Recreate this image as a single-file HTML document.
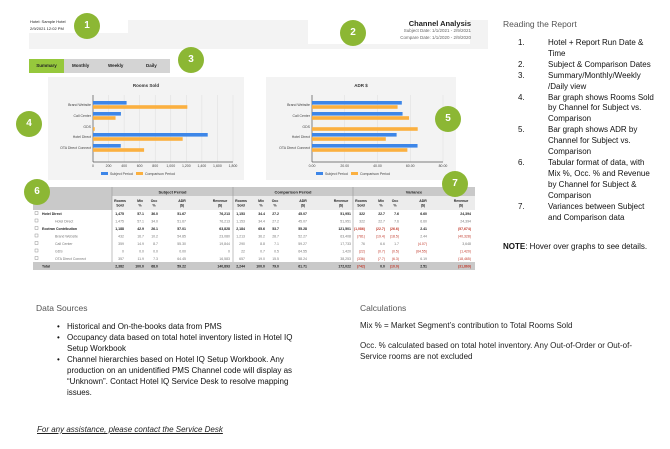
<!DOCTYPE html>
<html><head><meta charset="utf-8">
<style>
body{margin:0;width:670px;height:449px;background:#fff;position:relative;overflow:hidden;font-family:"Liberation Sans",sans-serif;color:#222}
.a{position:absolute;white-space:nowrap}
.circ{position:absolute;width:26px;height:26px;border-radius:50%;background:#8cb734;color:#fff;font-size:10px;line-height:26px;text-align:center;font-weight:bold}
.rl{position:absolute;left:518px;top:38px;width:150px;font-size:8px;line-height:10.9px;color:#111}
.rl div{position:relative;padding-left:30px;width:108px}
.rl div b{position:absolute;left:0;font-weight:normal}
.ds{position:absolute;left:57px;top:321px;width:240px;font-size:8px;line-height:11px;color:#111}
.ds div{position:relative;padding-left:10px}
.ds div b{position:absolute;left:0;font-weight:normal}
</style></head><body>
<div class="a" style="left:29px;top:20px;width:459px;height:29px;background:#f3f3f3"></div>
<div class="a" style="left:29px;top:20px;width:99px;height:13px;background:#fff"></div>
<div class="a" style="left:30px;top:19px;font-size:4px">Hotel: Sample Hotel</div>
<div class="a" style="left:30px;top:26px;font-size:4px">2/9/2021 12:02 PM</div>
<div class="a" style="left:308px;top:20px;width:162px;height:24px;background:#fff"></div>
<div class="a" style="right:199px;top:19px;font-size:7.5px;font-weight:bold">Channel Analysis</div>
<div class="a" style="right:199px;top:28px;font-size:4.5px;color:#666">Subject Date: 1/1/2021 - 2/9/2021</div>
<div class="a" style="right:199px;top:35px;font-size:4.5px;color:#666">Compare Date: 1/1/2020 - 2/9/2020</div>

<div class="a" style="left:29px;top:59px;width:141px;height:14px;background:#d4d4d4"></div>
<div class="a" style="left:29px;top:59px;width:35px;height:14px;background:#96c83c;font-size:4.5px;font-weight:bold;line-height:14px;text-align:center">Summary</div>
<div class="a" style="left:72px;top:59px;font-size:4.5px;font-weight:bold;line-height:14px">Monthly</div>
<div class="a" style="left:108px;top:59px;font-size:4.5px;font-weight:bold;line-height:14px">Weekly</div>
<div class="a" style="left:146px;top:59px;font-size:4.5px;font-weight:bold;line-height:14px">Daily</div>

<svg class="a" style="left:0;top:0" width="500" height="290" id="charts"></svg>

<div class="circ" style="left:74px;top:13px">1</div>
<div class="circ" style="left:340px;top:20px">2</div>
<div class="circ" style="left:178px;top:47px">3</div>
<div class="circ" style="left:16px;top:111px">4</div>
<div class="circ" style="left:435px;top:106px">5</div>
<div class="circ" style="left:24px;top:179px">6</div>
<div class="circ" style="left:442px;top:171px">7</div>

<div class="a" style="left:503px;top:19px;font-size:8.5px;color:#555">Reading the Report</div>
<div class="rl">
<div><b>1.</b>Hotel + Report Run Date &amp; Time</div>
<div><b>2.</b>Subject &amp; Comparison Dates</div>
<div><b>3.</b>Summary/Monthly/Weekly /Daily view</div>
<div><b>4.</b>Bar graph shows Rooms Sold by Channel for Subject vs. Comparison</div>
<div><b>5.</b>Bar graph shows ADR by Channel for Subject vs. Comparison</div>
<div><b>6.</b>Tabular format of data, with Mix %, Occ. % and Revenue by Channel for Subject &amp; Comparison</div>
<div><b>7.</b>Variances between Subject and Comparison data</div>
</div>
<div class="a" style="left:503px;top:242px;width:150px;white-space:normal;font-size:8px;line-height:10.5px;color:#111"><strong>NOTE</strong>: Hover over graphs to see details.</div>

<div class="a" style="left:36px;top:303px;font-size:8.5px;color:#555">Data Sources</div>
<div class="ds">
<div><b>•</b>Historical and On-the-books data from PMS</div>
<div><b>•</b>Occupancy data based on total hotel inventory listed in Hotel IQ Setup Workbook</div>
<div><b>•</b>Channel hierarchies based on Hotel IQ Setup Workbook. Any production on an unidentified PMS Channel code will display as “Unknown”. Contact Hotel IQ Service Desk to resolve mapping issues.</div>
</div>
<div class="a" style="left:360px;top:303px;font-size:8.5px;color:#555">Calculations</div>
<div class="a" style="left:360px;top:321px;font-size:8px">Mix % = Market Segment’s contribution to Total Rooms Sold</div>
<div class="a" style="left:360px;top:340px;font-size:8px;line-height:11px;white-space:normal;width:290px">Occ. % calculated based on total hotel inventory. Any Out-of-Order or Out-of-Service rooms are not excluded</div>
<div class="a" style="left:37px;top:425px;font-size:8px;font-style:italic;text-decoration:underline">For any assistance, please contact the Service Desk</div>

<script>
const categories=["Brand Website","Call Center","GDS","Hotel Direct","OTA Direct Connect"];
const roomsSubject=[432,359,0,1475,357];
const roomsComparison=[1213,290,22,1153,657];
const roomsTicks=[0,200,400,600,800,1000,1200,1400,1600,1800];
const adrSubject=[54.85,55.30,0,51.67,64.45];
const adrComparison=[52.27,59.27,64.55,45.07,58.24];
const adrTicks=[0,20,40,60,80];
const tableRows=[
["Hotel Direct","1,475","57.1","36.0","51.67","76,213","1,153","34.4","27.2","45.07","51,951","322","22.7","7.6","6.60","24,394",1],
["Hotel Direct","1,475","57.1","34.0","51.67","76,213","1,153","34.4","27.2","45.07","51,951","322","22.7","7.6","6.60","24,394",0],
["Ecotran Contribution","1,188","42.9","26.1","57.01","63,828","2,184","65.6","53.7","55.28","121,501","(1,086)","(22.7)","(26.6)","2.41","(57,674)",1],
["Brand Website","432","16.7","10.2","54.85","23,080","1,213","36.2","28.7","52.27","63,408","(781)","(19.4)","(18.5)","2.44","(40,328)",0],
["Call Center","359","14.9","8.7","55.30","19,844","290","8.8","7.1","59.27","17,733","76","6.6","1.7","(4.07)","3,648",0],
["GDS","0","0.0","0.0","0.00","0","22","0.7","0.5","64.55","1,420","(22)","(0.7)","(0.5)","(64.55)","(1,420)",0],
["OTA Direct Connect","357","11.9","7.3","64.45","16,583","657","19.0","15.5","58.24","38,253","(336)","(7.7)","(6.3)","6.19","(18,465)",0]];
const totalRow=["Total","2,382","100.0","68.0","59.22","140,893","2,244","100.0","79.0","61.71","172,022","(742)","0.0","(10.0)","2.51","(31,869)"];

const svg=document.getElementById('charts');const NS='http://www.w3.org/2000/svg';
function el(t,a,txt){const e=document.createElementNS(NS,t);for(const k in a)e.setAttribute(k,a[k]);if(txt!==undefined)e.textContent=txt;svg.appendChild(e);return e;}
const catY=[105,116,127,137,148];
function chart(name,px,pw,x0,x1,title,ticks,max,subj,comp,fmt){
  let p=el('rect',{x:px,y:77,width:pw,height:103,fill:'#f3f3f3'});
  
  let t=el('text',{x:px+pw/2,y:87,'font-size':4.5,'font-weight':'bold','text-anchor':'middle',fill:'#333'},title);
  
  const sx=v=>x0+(x1-x0)*v/max;
  ticks.forEach(v=>{el('line',{x1:sx(v),x2:sx(v),y1:95,y2:162,stroke:'#ddd','stroke-width':0.5});
    let tl=el('text',{x:sx(v),y:167,'font-size':3.5,'text-anchor':'middle',fill:'#444'},fmt(v));
    });
  el('line',{x1:x0,x2:x0,y1:95,y2:162,stroke:'#555','stroke-width':0.7});
  el('line',{x1:x0,x2:x1,y1:162,y2:162,stroke:'#555','stroke-width':0.7});
  categories.forEach((c,i)=>{const y=catY[i];
    let l=el('text',{x:x0-2,y:y+1,'font-size':3.5,'text-anchor':'end',fill:'#444'},c);
    
    let b1=el('rect',{x:x0,y:y-4,width:sx(subj[i])-x0,height:3.6,fill:'#3d86e8'});
    
    let b2=el('rect',{x:x0,y:y+0.2,width:sx(comp[i])-x0,height:3.6,fill:'#fbb040'});
    });
  const lx=px+pw/2-45;
  el('rect',{x:lx,y:172,width:7,height:3,fill:'#3d86e8'});
  let a=el('text',{x:lx+9,y:175,'font-size':3.5,fill:'#444'},'Subject Period');
  el('rect',{x:lx+35,y:172,width:7,height:3,fill:'#fbb040'});
  let b=el('text',{x:lx+44,y:175,'font-size':3.5,fill:'#444'},'Comparison Period');
}
chart('rooms-sold-chart',48,196,93,233,'Rooms Sold',roomsTicks,1800,roomsSubject,roomsComparison,v=>v.toLocaleString('en-US'));
chart('adr-chart',266,190,312,443,'ADR $',adrTicks,80,adrSubject,adrComparison,v=>v.toFixed(2));

const groups=[[112,233,'Subject Period'],[233,353,'Comparison Period'],[353,475,'Variance']];
el('rect',{x:33,y:187,width:442,height:9,fill:'#c9c9c9'});
el('rect',{x:33,y:196,width:442,height:14,fill:'#ececec'});
el('rect',{x:33,y:196,width:79,height:14,fill:'#c9c9c9'});
groups.forEach(g=>{let h=el('text',{x:(g[0]+g[1])/2,y:193.5,'font-size':4,'font-weight':'bold','text-anchor':'middle',fill:'#222'},g[2]);
  
  el('line',{x1:g[0],x2:g[0],y1:187,y2:270,stroke:'#999','stroke-width':0.6});});
const colOff=[8,28,42,70,108];const colNames=['Rooms Sold','Mix %','Occ %','ADR ($)','Revenue ($)'];
groups.forEach(g=>colNames.forEach((n,j)=>{let h=el('text',{x:g[0]+colOff[j],y:202,'font-size':3.5,'font-weight':'bold','text-anchor':'middle',fill:'#222'},n.split(' ')[0]);
  
  if(n.split(' ')[1])el('text',{x:g[0]+colOff[j],y:206.5,'font-size':3.5,'font-weight':'bold','text-anchor':'middle',fill:'#222'},n.split(' ')[1]);}));
tableRows.forEach((r,i)=>{const y=215+i*7.5;
  el('rect',{x:35,y:y-3.5,width:3,height:3,fill:'none',stroke:'#777','stroke-width':0.4});
  let l=el('text',{x:r[16]?42:55,y:y,'font-size':3.5,'font-weight':r[16]?'bold':'normal',fill:r[16]?'#222':'#777'},r[0]);
  
  for(let k=1;k<16;k++){const g=groups[Math.floor((k-1)/5)];const j=(k-1)%5;
    const neg=k>10&&r[k].startsWith('(');
    el('text',{x:g[0]+colOff[j]+(j==4?10:4),y:y,'font-size':3.5,'text-anchor':'end','font-weight':r[16]?'bold':'normal',fill:neg?'#c0392b':(r[16]?'#222':'#777')},r[k]);}});
el('rect',{x:33,y:262,width:442,height:8,fill:'#c9c9c9'});
el('text',{x:42,y:267.5,'font-size':3.5,'font-weight':'bold',fill:'#222'},totalRow[0]);
for(let k=1;k<16;k++){const g=groups[Math.floor((k-1)/5)];const j=(k-1)%5;
  el('text',{x:g[0]+colOff[j]+(j==4?10:4),y:267.5,'font-size':3.5,'text-anchor':'end','font-weight':'bold',fill:(k>10&&totalRow[k].startsWith('('))?'#c0392b':'#222'},totalRow[k]);}
</script>
</body></html>
